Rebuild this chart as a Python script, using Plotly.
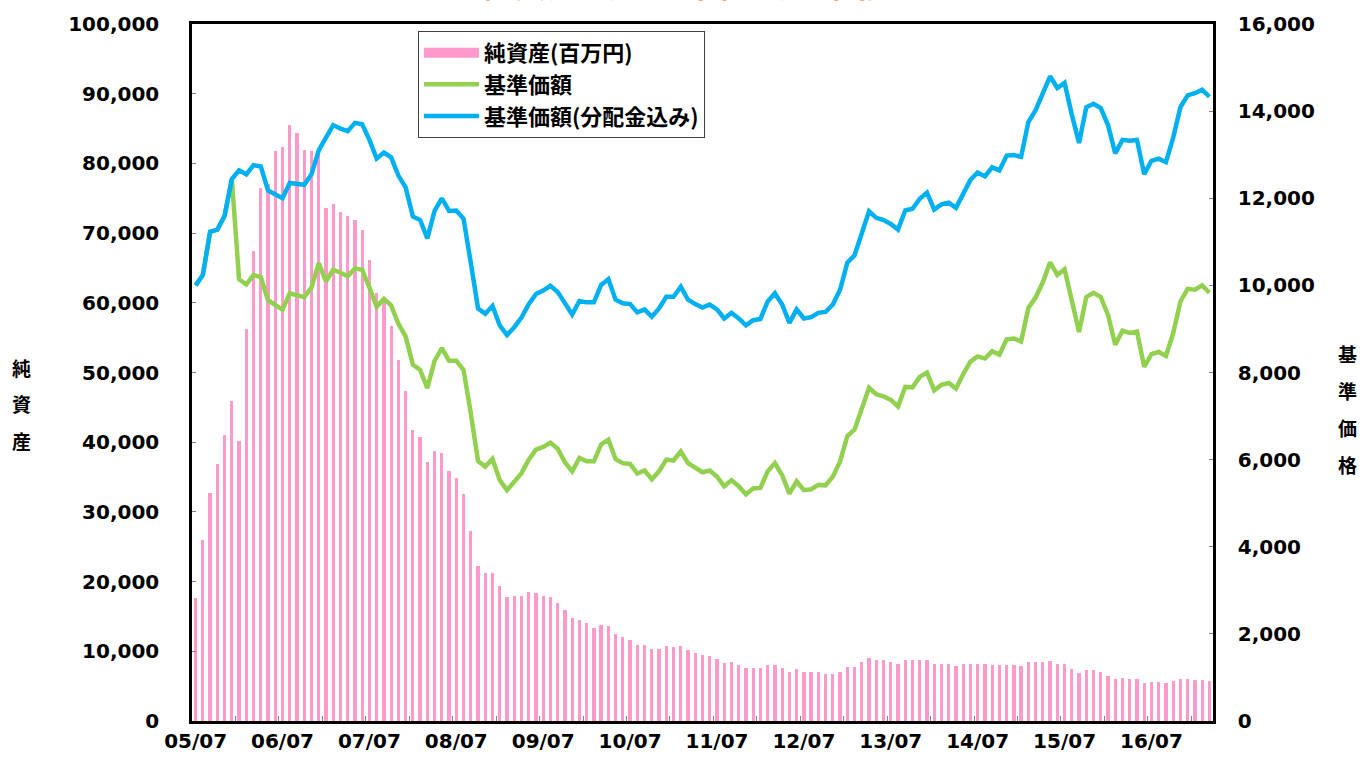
import plotly.graph_objects as go

# ---- data ----
start_year, start_month, n_months = 2005, 7, 141
months = []
y, m = start_year, start_month
for _ in range(n_months):
    months.append(f"{y % 100:02d}/{m:02d}")
    m += 1
    if m > 12:
        m = 1
        y += 1

net_assets = [
    17700, 26000, 32700, 36900, 41000, 45900, 40200, 56200, 67500, 76500, 77100, 81800,
    82300, 85500, 84400, 81900, 81800, 81900, 73600, 74200, 73000, 72500, 71900, 70400,
    66100, 61400, 60600, 56700, 51800, 47300, 41700, 40700, 37200, 38700, 38500, 35900,
    34800, 32500, 27300, 22300, 21300, 21300, 19300, 17800, 17900, 17900, 18500, 18400,
    18000, 17800, 16900, 15900, 14800, 14500, 14000, 13300, 13800, 13600, 12500, 12000,
    11600, 10900, 10900, 10300, 10300, 10700, 10600, 10800, 10200, 9700, 9500, 9300,
    8900, 8300, 8400, 8000, 7600, 7600, 7600, 8000, 8100, 7600, 7100, 7400,
    7000, 7000, 7000, 6800, 6800, 7100, 7700, 7800, 8500, 9000, 8700, 8700,
    8400, 8200, 8700, 8700, 8800, 8700, 8200, 8200, 8200, 7950, 8150, 8150,
    8150, 8150, 8100, 8000, 8100, 8000, 7900, 8400, 8500, 8500, 8600, 8150,
    8150, 7400, 6900, 7300, 7300, 7100, 6500, 6000, 6200, 6000, 6000, 5400,
    5600, 5600, 5500, 5700, 6000, 6000, 5950, 5950, 5800,
]

nav_price = [
    10000, 10240, 11230, 11280, 11600, 12440,
    10140, 10020, 10240, 10190, 9660, 9560, 9440, 9820, 9770, 9730, 9950, 10510,
    10090, 10360, 10290, 10210, 10390, 10360, 9950, 9510, 9690, 9540, 9120, 8830,
    8180, 8060, 7640, 8270, 8560, 8270,
    8270, 8060, 7060, 5970, 5840, 6020, 5530, 5300, 5490, 5690, 6000, 6230,
    6290, 6390, 6250, 5940, 5730, 6040, 5960, 5960, 6350, 6460, 6010, 5920,
    5900, 5680, 5750, 5550, 5730, 6000, 5980, 6190, 5920, 5800, 5710,
    5750, 5610, 5390, 5530, 5390, 5200, 5340, 5350, 5730, 5920, 5640, 5220,
    5500, 5300, 5320, 5420, 5410, 5610, 5960, 6540, 6690, 7180, 7650, 7500,
    7450, 7370, 7220, 7670, 7660, 7900, 8000, 7590, 7720, 7760, 7630,
    7960, 8250, 8370, 8320, 8490, 8410, 8760, 8780, 8710, 9480, 9720, 10070,
    10530, 10240, 10370, 9660, 8930, 9730, 9830, 9730, 9320, 8640, 8960, 8910,
    8940, 8130, 8420, 8470, 8380, 8900, 9630, 9920, 9900, 10000, 9830,
]

nav_price_reinvested = [
    10000, 10240, 11230, 11280, 11600, 12440, 12640, 12550, 12760, 12730, 12180, 12100,
    12000, 12350, 12320, 12310, 12550, 13100, 13390, 13680, 13600, 13540, 13730, 13700,
    13340, 12910, 13050, 12940, 12520, 12250, 11580, 11500, 11080, 11710, 12000, 11710,
    11720, 11530, 10520, 9470, 9350, 9530, 9080, 8860, 9040, 9260, 9570, 9800,
    9880, 9990, 9850, 9570, 9330, 9640, 9610, 9610, 10010, 10140, 9670, 9590,
    9570, 9380, 9450, 9280, 9470, 9740, 9740, 9970, 9670, 9570, 9490,
    9560, 9450, 9240, 9370, 9240, 9080, 9200, 9230, 9630, 9820, 9560, 9140,
    9450, 9240, 9270, 9370, 9390, 9560, 9900, 10520, 10690, 11180, 11700, 11550,
    11500, 11410, 11280, 11720, 11760, 11990, 12130, 11740, 11860, 11900, 11780,
    12100, 12420, 12590, 12500, 12710, 12640, 12980, 12990, 12950, 13750, 14020, 14390,
    14800, 14530, 14650, 13920, 13270, 14090, 14170, 14070, 13680, 13030, 13340, 13320,
    13340, 12550, 12860, 12910, 12830, 13390, 14090, 14360, 14410, 14490, 14330,
]

assert len(net_assets) == n_months
assert len(nav_price) == n_months
assert len(nav_price_reinvested) == n_months

series_names = ["純資産(百万円)", "基準価額", "基準価額(分配金込み)"]
title_text = "純資産額・基準価額の推移"
left_title_chars = ["純", "資", "産"]
right_title_chars = ["基", "準", "価", "格"]

x_idx = list(range(n_months))
label_idx = [i for i, s in enumerate(months) if s.endswith("/07")]
label_txt = [months[i] for i in label_idx]
minor_ticks = [i - 0.5 for i, s in enumerate(months) if i > 0 and (s.endswith("/01") or s.endswith("/07"))]

# ---- figure ----
NUM_FONT = "DejaVu Sans"
JP_FONT = "Noto Sans CJK JP"
PINK = "#FF99CC"

fig = go.Figure()
fig.add_trace(go.Bar(
    x=x_idx, y=net_assets, name=series_names[0], width=0.45,
    marker=dict(color=PINK, line=dict(width=0)), yaxis="y", legendgroup="a",
    showlegend=False,
    customdata=months, hovertemplate="%{customdata}: %{y:,}<extra></extra>",
))
# legend entry for the bars, drawn as a wide pink block like the reference
fig.add_trace(go.Scatter(
    x=[None], y=[None], name=series_names[0], mode="lines",
    line=dict(color=PINK, width=13), yaxis="y", legendgroup="a", hoverinfo="skip",
))
fig.add_trace(go.Scatter(
    x=x_idx, y=nav_price, name=series_names[1], mode="lines",
    line=dict(color="#92D050", width=4.5), yaxis="y2", legendgroup="b",
    customdata=months, hovertemplate="%{customdata}: %{y:,}<extra></extra>",
))
fig.add_trace(go.Scatter(
    x=x_idx, y=nav_price_reinvested, name=series_names[2], mode="lines",
    line=dict(color="#00B0F0", width=4.5), yaxis="y2", legendgroup="c",
    customdata=months, hovertemplate="%{customdata}: %{y:,}<extra></extra>",
))

tickfont = dict(family=NUM_FONT, size=20, color="black", weight="bold")

fig.update_layout(
    width=1372, height=765,
    margin=dict(l=192, r=159, t=24, b=36),
    paper_bgcolor="white", plot_bgcolor="white",
    bargap=0,
    showlegend=True,
    legend=dict(
        x=0.2213, y=0.99, xanchor="left", yanchor="top",
        bgcolor="white", bordercolor="#404040", borderwidth=1,
        font=dict(family=JP_FONT, size=22, color="black", weight="bold"),
        tracegroupgap=6, itemwidth=55, traceorder="normal",
    ),
    xaxis=dict(
        range=[-0.5, n_months - 0.5],
        tickmode="array", tickvals=label_idx, ticktext=label_txt,
        ticks="", showgrid=False, zeroline=False,
        showline=True, linecolor="black", linewidth=2.5, mirror=True,
        tickfont=tickfont,
        minor=dict(tickmode="array", tickvals=minor_ticks, ticks="inside",
                   ticklen=5, tickwidth=1, tickcolor="#808080", showgrid=False),
    ),
    yaxis=dict(
        range=[0, 100000], dtick=10000, tick0=0, tickformat=",",
        ticks="inside", ticklen=4, tickwidth=1, tickcolor="#808080",
        showgrid=False, zeroline=False,
        showline=True, linecolor="black", linewidth=2.5,
        tickfont=tickfont, ticklabelstandoff=26,
    ),
    yaxis2=dict(
        range=[0, 16000], dtick=2000, tick0=0, tickformat=",",
        overlaying="y", side="right",
        ticks="inside", ticklen=4, tickwidth=1, tickcolor="#808080",
        showgrid=False, zeroline=False,
        showline=True, linecolor="black", linewidth=2.5,
        tickfont=tickfont, ticklabelstandoff=18,
    ),
)

ann = []
# title (mostly cropped at the top of the canvas, as in the reference)
ann.append(dict(text=f"<b>{title_text}</b>", xref="paper", yref="paper",
                x=(684 - 192) / 1021, y=1 + (24 - 9) / 705, xanchor="center", yanchor="bottom",
                showarrow=False, font=dict(family=JP_FONT, size=34, color="#FF6600")))
for i, ch in enumerate(left_title_chars):
    ann.append(dict(text=f"<b>{ch}</b>", xref="paper", yref="paper",
                    x=(21 - 192) / 1021, y=(729 - (371 + 37 * i)) / 705,
                    xanchor="center", yanchor="middle", showarrow=False,
                    font=dict(family=JP_FONT, size=19, color="black")))
for i, ch in enumerate(right_title_chars):
    ann.append(dict(text=f"<b>{ch}</b>", xref="paper", yref="paper",
                    x=(1347 - 192) / 1021, y=(729 - (357 + 37.5 * i)) / 705,
                    xanchor="center", yanchor="middle", showarrow=False,
                    font=dict(family=JP_FONT, size=19, color="black")))
fig.update_layout(annotations=ann)

fig.write_html("out.html", config={"displayModeBar": False},
               post_script="document.body.style.margin='0';")
